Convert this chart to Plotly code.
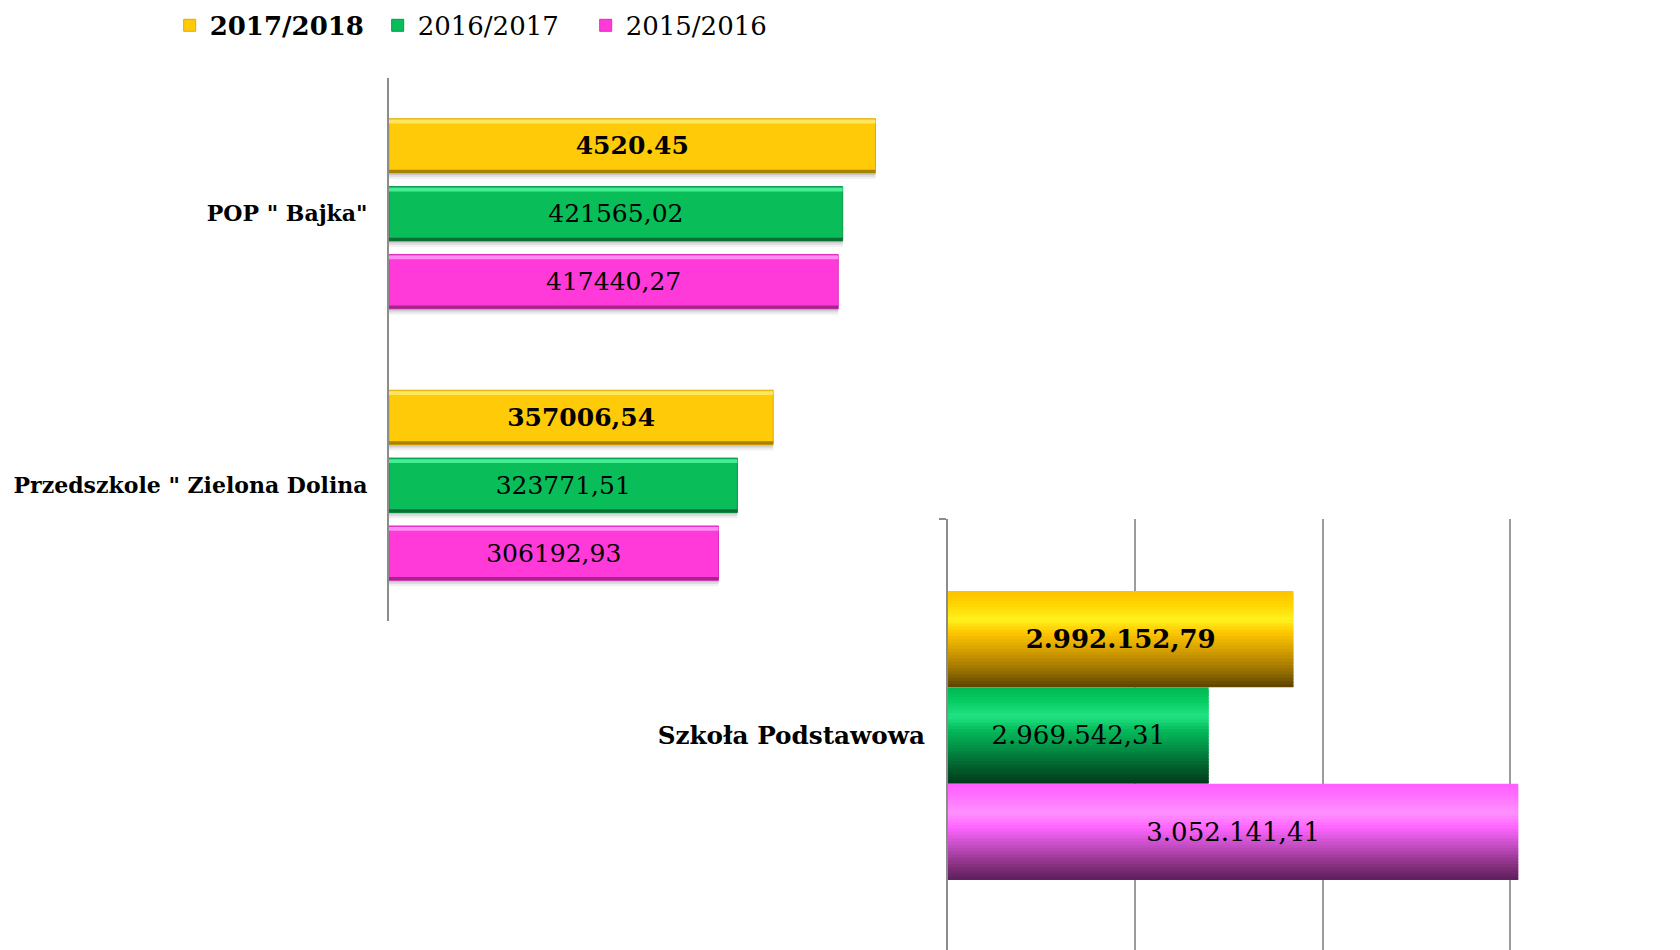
import plotly.graph_objects as go

# ---------------- data ----------------
preschool_names = ['POP " Bajka"', 'Przedszkole " Zielona Dolina']
school_names = ['Szkoła Podstawowa']
series_names = ['2017/2018', '2016/2017', '2015/2016']

pre_2017_2018 = [452045.00, 357006.54]
pre_2016_2017 = [421565.02, 323771.51]
pre_2015_2016 = [417440.27, 306192.93]
pre_text_2017_2018 = ['4520.45', '357006,54']
pre_text_2016_2017 = ['421565,02', '323771,51']
pre_text_2015_2016 = ['417440,27', '306192,93']

sch_2017_2018 = [2992152.79]
sch_2016_2017 = [2969542.31]
sch_2015_2016 = [3052141.41]
sch_text_2017_2018 = ['2.992.152,79']
sch_text_2016_2017 = ['2.969.542,31']
sch_text_2015_2016 = ['3.052.141,41']

sch_axis_min = 2900000
sch_axis_step = 50000

# ---------------- styles ----------------
FONT = 'DejaVu Serif'
W, H = 1680, 950

flat = {
    '2017/2018': ('#FFCA08', '#FFE65C', '#A98200', '#E0AC00'),
    '2016/2017': ('#09BD59', '#45EE93', '#0A6F35', '#07994A'),
    '2015/2016': ('#FF3AD9', '#FF8CF3', '#A3268B', '#E02CC0'),
}
grad = {
    '2017/2018': [(0, '#FFC200'), (0.14, '#FFD500'), (0.30, '#FFF21E'), (0.43, '#FFC600'),
                  (0.62, '#D49E00'), (0.82, '#9A7300'), (1.0, '#5A4300')],
    '2016/2017': [(0, '#00B650'), (0.14, '#06CC62'), (0.30, '#22E384'), (0.45, '#04B95A'),
                  (0.65, '#038A43'), (0.85, '#025A2A'), (1.0, '#023A1A')],
    '2015/2016': [(0, '#FF5CFF'), (0.14, '#FF72FF'), (0.30, '#FF92FF'), (0.45, '#FF66FF'),
                  (0.65, '#C24CC2'), (0.85, '#86307E'), (1.0, '#5C1E5C')],
}


def hex2rgb(h):
    h = h.lstrip('#')
    return tuple(int(h[i:i + 2], 16) for i in (0, 2, 4))


def interp(stops, t):
    for (t0, c0), (t1, c1) in zip(stops[:-1], stops[1:]):
        if t0 <= t <= t1:
            a = (t - t0) / (t1 - t0) if t1 > t0 else 0
            r0, r1 = hex2rgb(c0), hex2rgb(c1)
            return 'rgb(%d,%d,%d)' % tuple(round(x + (y - x) * a) for x, y in zip(r0, r1))
    return stops[-1][1]


fig = go.Figure()

pre_values = [pre_2017_2018, pre_2016_2017, pre_2015_2016]
pre_texts = [pre_text_2017_2018, pre_text_2016_2017, pre_text_2015_2016]
sch_values = [sch_2017_2018, sch_2016_2017, sch_2015_2016]
sch_texts = [sch_text_2017_2018, sch_text_2016_2017, sch_text_2015_2016]

# ---------------- top chart (preschools) ----------------
BW = 0.2
for k, name in enumerate(series_names):
    main, light, dark, mid = flat[name]
    c = (k - 1) * 0.25
    o = c - BW / 2
    vals = pre_values[k]
    common = dict(x=vals, y=preschool_names, orientation='h', xaxis='x', yaxis='y',
                  hoverinfo='skip', showlegend=False, legendgroup=name)
    # soft shadow
    for dy, a in ((0.022, 0.06), (0.014, 0.08), (0.007, 0.10)):
        fig.add_trace(go.Bar(**common, offset=o + dy, width=BW,
                             marker=dict(color='rgba(0,0,0,%.2f)' % a, line=dict(width=0))))
    # main body
    c2 = dict(common)
    c2['showlegend'] = True
    fig.add_trace(go.Bar(**c2, offset=o, width=BW,
                         name=('<b>%s</b>' % name) if k == 0 else name,
                         marker=dict(color=main, line=dict(color=mid, width=1))))
    # top highlight
    fig.add_trace(go.Bar(**common, offset=o + 0.004, width=0.014,
                         marker=dict(color=light, line=dict(width=0))))
    # bottom dark edge
    fig.add_trace(go.Bar(**common, offset=o + BW - 0.012, width=0.012,
                         marker=dict(color=dark, line=dict(width=0))))
    # label
    fig.add_trace(go.Bar(**common, offset=o, width=BW, text=pre_texts[k],
                         textposition='inside', insidetextanchor='middle', constraintext='none',
                         textangle=0,
                         textfont=dict(family=FONT, size=25, color='black',
                                       weight='bold' if k == 0 else 'normal'),
                         marker=dict(color='rgba(0,0,0,0)', line=dict(width=0))))

# ---------------- bottom chart (school) ----------------
# bars start at the value axis minimum (as in the original chart)
BW2 = 0.2224
N = 30
for k, name in enumerate(series_names):
    c = (k - 1) * BW2
    o = c - BW2 / 2
    lengths = [v - sch_axis_min for v in sch_values[k]]
    common = dict(x=lengths, base=sch_axis_min, y=school_names, orientation='h',
                  xaxis='x2', yaxis='y2', hoverinfo='skip', showlegend=False, legendgroup=name)
    step = BW2 / N
    for j in range(N):
        col = interp(grad[name], (j + 0.5) / N)
        wj = step * 1.8 if j < N - 1 else step
        fig.add_trace(go.Bar(**common, offset=o + j * step, width=wj,
                             marker=dict(color=col, line=dict(width=0))))
    fig.add_trace(go.Bar(**common, offset=o, width=BW2, text=sch_texts[k],
                         textposition='inside', insidetextanchor='middle', constraintext='none',
                         textangle=0,
                         textfont=dict(family=FONT, size=26, color='black',
                                       weight='bold' if k == 0 else 'normal'),
                         marker=dict(color='rgba(0,0,0,0)', line=dict(width=0))))

AXIS = '#8C8C8C'
fig.update_layout(
    width=W, height=H,
    margin=dict(l=0, r=0, t=0, b=0),
    paper_bgcolor='white', plot_bgcolor='rgba(0,0,0,0)',
    barmode='overlay',
    font=dict(family=FONT, color='black'),
    showlegend=True,
    legend=dict(orientation='h', x=0.101, y=0.998, xanchor='left', yanchor='top',
                font=dict(family=FONT, size=26, color='black'), bgcolor='rgba(0,0,0,0)',
                entrywidth=163, entrywidthmode='pixels',
                traceorder='normal', itemclick=False),
    xaxis=dict(domain=[389 / W, 0.56], range=[0, 512730], showgrid=False, zeroline=False,
               showticklabels=False, showline=False, ticks='', anchor='y'),
    yaxis=dict(domain=[1 - 621 / H, 1 - 78 / H], type='category', categoryarray=preschool_names,
               categoryorder='array', range=[1.5, -0.5], showline=True, linecolor=AXIS,
               linewidth=2, ticks='', showgrid=False, zeroline=False, anchor='x',
               ticklabelstandoff=15,
               tickfont=dict(family=FONT, size=22, color='black', weight='bold')),
    xaxis2=dict(domain=[948 / W, 1.0], range=[sch_axis_min, 3095300], tick0=sch_axis_min,
                dtick=sch_axis_step, showgrid=True, gridcolor='#9C9C9C', gridwidth=2,
                zeroline=False, showticklabels=False, showline=False, ticks='', anchor='y2'),
    yaxis2=dict(domain=[0, 1 - 519 / H], type='category', categoryarray=school_names,
                range=[0.4954, -0.5], showline=True, linecolor=AXIS, linewidth=2,
                ticks='outside', tickson='boundaries', ticklen=7, tickwidth=2, tickcolor=AXIS,
                showgrid=False, zeroline=False, anchor='x2', ticklabelstandoff=16,
                tickfont=dict(family=FONT, size=24.7, color='black', weight='bold')),
)

fig.write_html("out.html", config={'displayModeBar': False},
               post_script="document.body.style.margin='0';")
